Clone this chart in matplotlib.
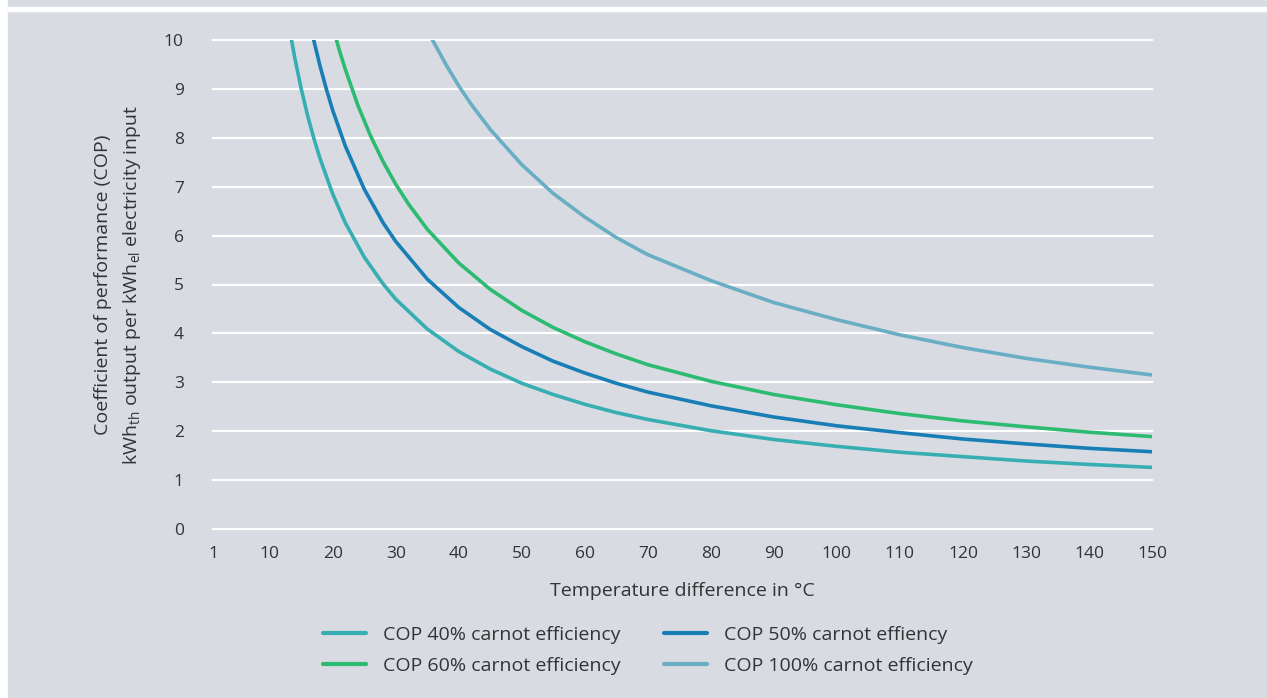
import matplotlib.pyplot as plt
from matplotlib.patches import Rectangle

# values (COP vs temperature difference)
dt_40 = [13, 14, 15, 16, 17, 18, 20, 22, 25, 28, 30, 35, 40, 45, 50, 55, 60, 65, 70, 80, 90, 100, 110, 120, 130, 140, 150]
cop_40 = [10.32, 9.62, 9.00, 8.46, 7.99, 7.57, 6.85, 6.26, 5.56, 5.01, 4.70, 4.09, 3.63, 3.27, 2.98, 2.75, 2.55, 2.38, 2.24, 2.01, 1.83, 1.69, 1.57, 1.48, 1.39, 1.32, 1.26]

dt_50 = [16, 17, 18, 19, 20, 22, 25, 28, 30, 35, 40, 45, 50, 55, 60, 65, 70, 80, 90, 100, 110, 120, 130, 140, 150]
cop_50 = [10.58, 9.99, 9.46, 8.99, 8.56, 7.83, 6.95, 6.26, 5.88, 5.11, 4.53, 4.08, 3.73, 3.43, 3.19, 2.98, 2.80, 2.52, 2.29, 2.11, 1.97, 1.84, 1.74, 1.65, 1.58]

dt_60 = [20, 21, 22, 24, 26, 28, 30, 32, 35, 40, 45, 50, 55, 60, 65, 70, 80, 90, 100, 110, 120, 130, 140, 150]
cop_60 = [10.28, 9.81, 9.40, 8.66, 8.04, 7.51, 7.05, 6.65, 6.13, 5.44, 4.90, 4.47, 4.12, 3.83, 3.58, 3.36, 3.02, 2.75, 2.54, 2.36, 2.21, 2.09, 1.98, 1.89]

dt_100 = [35, 36, 38, 40, 42, 45, 50, 55, 60, 65, 70, 80, 90, 100, 110, 120, 130, 140, 150]
cop_100 = [10.21, 9.96, 9.49, 9.06, 8.68, 8.17, 7.45, 6.86, 6.38, 5.96, 5.61, 5.08, 4.63, 4.28, 3.97, 3.71, 3.49, 3.31, 3.15]

x_ticks = [1, 10, 20, 30, 40, 50, 60, 70, 80, 90, 100, 110, 120, 130, 140, 150]
y_ticks = list(range(0, 11))

BG = '#d8dbe2'
TXT = '#333333'

plt.rcParams['font.family'] = ['Open Sans', 'DejaVu Sans']

fig = plt.figure(figsize=(12.67, 6.98), dpi=100, facecolor='white')
# grey panel with white strip on the left and white rule near the top
fig.patches.append(Rectangle((8 / 1267, 0), 1, 1, transform=fig.transFigure, color=BG, zorder=-10))
fig.patches.append(Rectangle((8 / 1267, 1 - 11 / 698), 1, 4 / 698, transform=fig.transFigure, color='white', zorder=-9))

ax = fig.add_axes([213 / 1267, 1 - 529 / 698, 939 / 1267, 489 / 698])
ax.set_facecolor(BG)

for y in y_ticks:
    ax.axhline(y, color='white', lw=1.6, zorder=1, clip_on=False)

ax.plot(dt_40, cop_40, color='#37aeb1', lw=2.6, label='COP 40% carnot efficiency', zorder=3)
ax.plot(dt_50, cop_50, color='#187fb6', lw=2.6, label='COP 50% carnot effiency', zorder=3)
ax.plot(dt_60, cop_60, color='#2dbb72', lw=2.6, label='COP 60% carnot efficiency', zorder=3)
ax.plot(dt_100, cop_100, color='#6aaec6', lw=2.6, label='COP 100% carnot efficiency', zorder=3)

ax.set_xlim(1, 150)
ax.set_ylim(0, 10)
ax.set_xticks(x_ticks)
ax.set_yticks(y_ticks)
ax.tick_params(axis='x', length=0, pad=12, labelsize=12.5, labelcolor=TXT)
ax.tick_params(axis='y', length=0, pad=21, labelsize=12.5, labelcolor=TXT)
for s in ax.spines.values():
    s.set_visible(False)

ax.set_xlabel('Temperature difference in °C', fontsize=14, color=TXT, labelpad=15)
ax.set_ylabel('Coefficient of performance (COP)\nkWh$_{\\mathregular{th}}$ output per kWh$_{\\mathregular{el}}$ electricity input',
              fontsize=14, color=TXT, labelpad=15, linespacing=1.55)

handles, labels = ax.get_legend_handles_labels()
order = [0, 2, 1, 3]
leg = fig.legend([handles[i] for i in order], [labels[i] for i in order],
                 loc='upper center', bbox_to_anchor=(648 / 1267, 1 - 608 / 698), ncol=2,
                 frameon=False, fontsize=14, handlelength=2.2, handletextpad=0.9,
                 columnspacing=2.2, labelspacing=0.68)
for t in leg.get_texts():
    t.set_color(TXT)
for l in leg.get_lines():
    l.set_linewidth(3)
    l.set_solid_capstyle('round')

fig.savefig('out.png', dpi=100, facecolor=fig.get_facecolor())
